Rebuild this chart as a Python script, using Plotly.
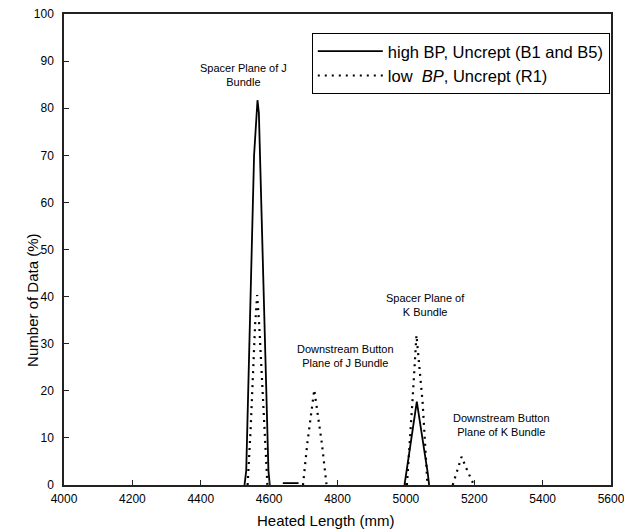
import plotly.graph_objects as go

# High BP, Uncrept (B1 and B5)  - solid (None separates peaks)
high_x = [4528, 4533, 4556, 4563, 4566, 4570, 4598, 4602, None,
          4640, 4686, None,
          4996, 5001, 5032, 5064, 5068]
high_y = [0, 3, 70, 80, 81.7, 79, 3, 0, None,
          0.4, 0.4, None,
          0, 2.5, 17.7, 2.5, 0]

# Low BP, Uncrept (R1) - dotted
low_x = [4537, 4546, 4559, 4565, 4571, 4585, 4595, None,
         4699, 4712, 4732, 4754, 4768, None,
         5003, 5008, 5019, 5031, 5049, 5060, 5063, None,
         5137, 5150, 5163, 5180, 5199]
low_y = [0, 12, 34, 40.3, 34, 15, 0, None,
         0, 9, 20.2, 9, 0, None,
         0, 5, 17.5, 31.8, 17.5, 4, 0, None,
         0, 3, 6, 3, 0]

series_names = ["high BP, Uncrept (B1 and B5)", "low\u00a0 <i>BP</i>, Uncrept (R1)"]

x_ticks = [4000, 4200, 4400, 4600, 4800, 5000, 5200, 5400, 5600]
y_ticks = [0, 10, 20, 30, 40, 50, 60, 70, 80, 90, 100]

labels = ["Spacer Plane of J<br>Bundle", "Downstream Button<br>Plane of J Bundle",
          "Spacer Plane of<br>K Bundle", "Downstream Button<br>Plane of K Bundle"]
label_x = [4524, 4822, 5056, 5280]
label_y = [87.0, 27.3, 38.3, 12.8]

x_title = "Heated Length (mm)"
y_title = "Number of Data (%)"

FONT = "Liberation Sans, Arial, sans-serif"

fig = go.Figure()
fig.add_trace(go.Scatter(x=high_x, y=high_y, mode="lines", name=series_names[0],
                         legendgroup="a", connectgaps=False,
                         line=dict(color="black", width=1.8)))
fig.add_trace(go.Scatter(x=low_x, y=low_y, mode="lines", name=series_names[1],
                         legendgroup="b", connectgaps=False,
                         line=dict(color="black", width=2.2, dash="2px,5px")))

for t, xx, yy in zip(labels, label_x, label_y):
    fig.add_annotation(x=xx, y=yy, xref="x", yref="y", text=t, showarrow=False,
                       font=dict(family=FONT, size=11, color="black"), align="center")

# axis titles placed as paper annotations
fig.add_annotation(x=0.479, y=-0.0764, xref="paper", yref="paper", text=x_title,
                   showarrow=False, xanchor="center", yanchor="middle",
                   font=dict(family=FONT, size=15, color="black"))
fig.add_annotation(x=-0.0567, y=0.393, xref="paper", yref="paper", text=y_title,
                   showarrow=False, xanchor="center", yanchor="middle", textangle=-90,
                   font=dict(family=FONT, size=15, color="black"))

fig.update_layout(
    width=624, height=523,
    margin=dict(l=56, r=21, t=6, b=46),
    paper_bgcolor="white", plot_bgcolor="white",
    font=dict(family=FONT, color="black"),
    legend=dict(x=0.453, y=0.96, xanchor="left", yanchor="top",
                bordercolor="black", borderwidth=1, bgcolor="white",
                font=dict(family=FONT, size=16.5, color="black"),
                itemwidth=65, tracegroupgap=0),
)
fig.update_xaxes(range=[4000, 5600], tickvals=x_ticks, ticks="inside", ticklen=5,
                 tickcolor="#222", showgrid=False, zeroline=False, automargin=False,
                 showline=True, linecolor="#222", linewidth=1.5, mirror=True,
                 tickfont=dict(size=12), ticklabelstandoff=2, ticklabeloverflow="allow")
fig.update_yaxes(range=[0, 100], tickvals=y_ticks, ticks="inside", ticklen=5,
                 tickcolor="#222", showgrid=False, zeroline=False, automargin=False,
                 showline=True, linecolor="#222", linewidth=1.5, mirror=True,
                 tickfont=dict(size=12), ticklabelstandoff=6, ticklabeloverflow="allow")

fig.write_html("out.html")
